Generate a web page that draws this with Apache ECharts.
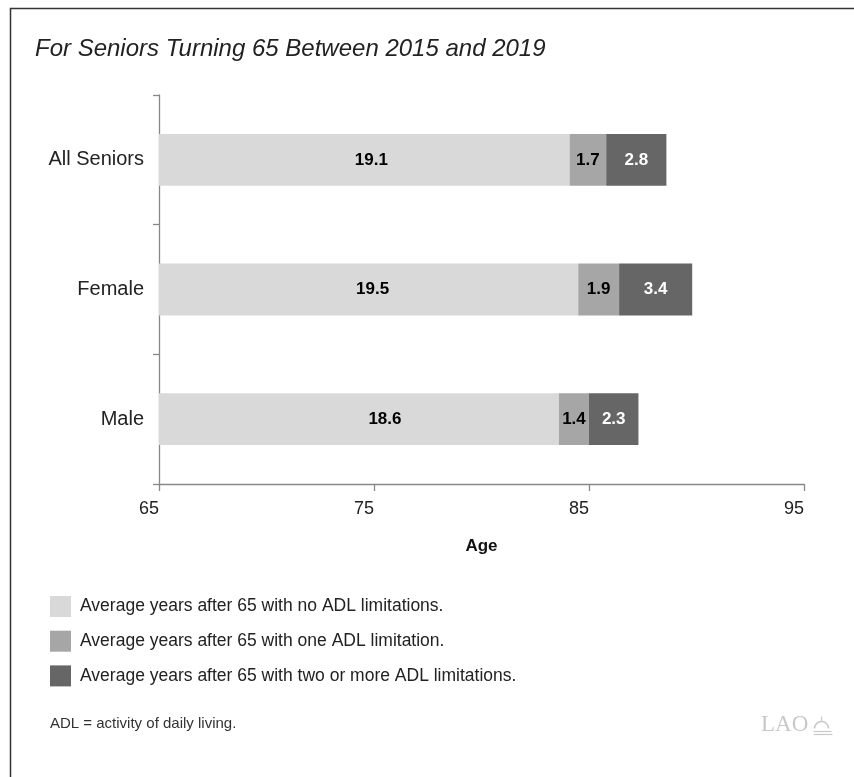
<!DOCTYPE html>
<html>
<head>
<meta charset="utf-8">
<script src="https://cdn.jsdelivr.net/npm/echarts@6/dist/echarts.min.js"></script>
<style>html,body{margin:0;padding:0;background:#fff}#c{width:854px;height:777px}</style>
</head>
<body>
<div id="c"></div>
<script>
var categories = ['All Seniors', 'Female', 'Male'];
var noLimit = [19.1, 19.5, 18.6];
var oneLimit = [1.7, 1.9, 1.4];
var twoLimit = [2.8, 3.4, 2.3];
var seriesNames = [
  'Average years after 65 with no ADL limitations.',
  'Average years after 65 with one ADL limitation.',
  'Average years after 65 with two or more ADL limitations.'
];
var baseAge = 65;
var tickAges = [65, 75, 85, 95];

// label nudges (pixels) to mirror the reference's hand-placed labels
var firstLabelNudge = [7, 4, 26];

var FONT = '"Liberation Sans", Arial, sans-serif';
var chart = echarts.init(document.getElementById('c'), null, {renderer: 'canvas'});

function mkSeries(name, data, color, labelColor, nudges) {
  return {
    name: name, type: 'bar', stack: 'total', barWidth: '40%',
    data: data.map(function (v, i) {
      var d = {value: v};
      if (nudges) d.label = {offset: [nudges[i], 0]};
      return d;
    }),
    itemStyle: {color: color},
    label: {show: true, position: 'inside', color: labelColor, fontWeight: 'bold',
            fontSize: 17, fontFamily: FONT, formatter: function (p) { return p.value.toFixed(1); }},
    emphasis: {disabled: true}
  };
}

chart.setOption({
  animation: false,
  textStyle: {fontFamily: FONT},
  grid: {left: 159, right: 50, top: 95, bottom: 293, containLabel: false},
  xAxis: {
    type: 'value', min: 0, max: tickAges[tickAges.length - 1] - baseAge, interval: 10,
    name: 'Age', nameLocation: 'middle', nameGap: 54,
    nameTextStyle: {fontWeight: 'bold', fontSize: 17, color: '#111', fontFamily: FONT},
    axisLine: {show: true, lineStyle: {color: '#888', width: 1.3}},
    axisTick: {show: true, length: 7, lineStyle: {color: '#888', width: 1.3}},
    splitLine: {show: false},
    axisLabel: {fontSize: 18, color: '#222', margin: 16, align: 'right',
                formatter: function (v) { return String(v + baseAge); }}
  },
  yAxis: {
    type: 'category', data: categories, inverse: true,
    axisLine: {show: true, lineStyle: {color: '#888', width: 1.3}},
    axisTick: {show: true, length: 6, inside: false, lineStyle: {color: '#888', width: 1.3}},
    axisLabel: {fontSize: 20, color: '#222', margin: 15}
  },
  legend: {
    orient: 'vertical', left: 50, top: 596, padding: 0, itemWidth: 21, itemHeight: 21, itemGap: 13.7,
    icon: 'rect', selectedMode: false,
    textStyle: {fontSize: 17.5, color: '#222', fontFamily: FONT, padding: [0, 0, 0, 4]},
    data: seriesNames
  },
  series: [
    mkSeries(seriesNames[0], noLimit, '#d9d9d9', '#000', firstLabelNudge),
    mkSeries(seriesNames[1], oneLimit, '#a6a6a6', '#000'),
    mkSeries(seriesNames[2], twoLimit, '#666666', '#fff')
  ],
  graphic: [
    {type: 'polyline', shape: {points: [[10.5, 777], [10.5, 8.5], [854, 8.5]]},
     style: {stroke: '#333', lineWidth: 1.5, fill: null}},
    {type: 'text', left: 35, top: 37,
     style: {text: 'For Seniors Turning 65 Between 2015 and 2019', fontSize: 24,
             fontStyle: 'italic', fill: '#222', fontFamily: FONT}},
    {type: 'text', left: 50, top: 716,
     style: {text: 'ADL = activity of daily living.', fontSize: 15, fill: '#333', fontFamily: FONT}},
    {type: 'text', left: 761, top: 713,
     style: {text: 'LAO', fontSize: 23, fill: '#c8c8c8', fontFamily: '"Liberation Serif", "DejaVu Serif", serif'}},
    {type: 'group', left: 811, top: 714, children: [
      {type: 'arc', shape: {cx: 8, cy: 13, r: 7, startAngle: Math.PI, endAngle: 2 * Math.PI},
       style: {stroke: '#c8c8c8', lineWidth: 1.5, fill: null}},
      {type: 'line', shape: {x1: 0, y1: 16, x2: 18, y2: 16}, style: {stroke: '#c8c8c8', lineWidth: 1.2}},
      {type: 'line', shape: {x1: 0, y1: 19, x2: 19, y2: 19}, style: {stroke: '#c8c8c8', lineWidth: 1.2}},
      {type: 'line', shape: {x1: 8, y1: 6, x2: 8, y2: 1}, style: {stroke: '#c8c8c8', lineWidth: 1.2}}
    ]}
  ]
});
</script>
</body>
</html>
